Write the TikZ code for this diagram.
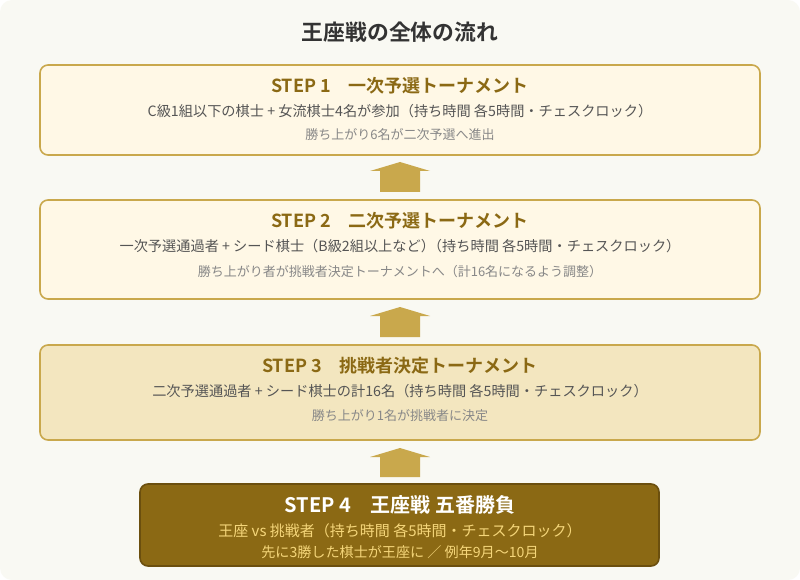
\documentclass[tikz,border=0pt]{standalone}
\usepackage{fontspec}
\setmainfont{Noto Sans CJK JP}
\newfontfamily\jpb{Noto Sans CJK JP Bold}
\definecolor{bgc}{HTML}{F9F9F3}
\definecolor{gold}{HTML}{C9A84C}
\definecolor{boxa}{HTML}{FFF8E6}
\definecolor{boxc}{HTML}{F3E6BF}
\definecolor{brown}{HTML}{8B6914}
\definecolor{brownd}{HTML}{6B4F0E}
\definecolor{tdark}{HTML}{333333}
\definecolor{tmid}{HTML}{555555}
\definecolor{tlight}{HTML}{888888}
\definecolor{tyel}{HTML}{F5D67A}
\tikzset{
  x=1pt,y=-1pt,
  stagebox/.style={draw=gold,line width=1.6pt,rounded corners=8pt,fill=boxa},
  finalbox/.style={draw=brownd,line width=1.6pt,rounded corners=8pt,fill=brown},
  steptitle/.style={font=\jpb\fontsize{18}{21}\selectfont,text=brown,inner sep=0},
  stepmain/.style={font=\fontsize{14.2}{17}\selectfont,text=tmid,inner sep=0},
  stepnote/.style={font=\fontsize{13}{15}\selectfont,text=tlight,inner sep=0},
  uparrow/.style={fill=gold,draw=none},
}
\begin{document}
\begin{tikzpicture}
\useasboundingbox (0,0) rectangle (800,580);
\fill[white] (0,0) rectangle (800,580);
\fill[bgc,rounded corners=12pt] (0,0) rectangle (800,580);

\node[font=\jpb\fontsize{21.8}{26}\selectfont,text=tdark,inner sep=0] (title) at (400,32) {王座戦の全体の流れ};

% boxes
\draw[stagebox] (40,65) rectangle (760,155);
\draw[stagebox] (40,200) rectangle (760,299);
\draw[stagebox,fill=boxc] (40,345) rectangle (760,440);
\draw[finalbox] (140,484) rectangle (659,566);

% STEP 1
\node[steptitle] (s1t) at (400,86) {STEP 1\hspace{1em}一次予選トーナメント};
\node[stepmain] (s1m) at (400,111) {C級1組以下の棋士 + 女流棋士4名が参加（持ち時間 各5時間・チェスクロック）};
\node[stepnote] (s1n) at (400,135) {勝ち上がり6名が二次予選へ進出};

% STEP 2
\node[steptitle] (s2t) at (400,221) {STEP 2\hspace{1em}二次予選トーナメント};
\node[stepmain] (s2m) at (400,246) {一次予選通過者 + シード棋士（B級2組以上など）\kern-0.5em（持ち時間 各5時間・チェスクロック）};
\node[stepnote] (s2n) at (400,272) {勝ち上がり者が挑戦者決定トーナメントへ（計16名になるよう調整）};

% STEP 3
\node[steptitle] (s3t) at (400,366) {STEP 3\hspace{1em}挑戦者決定トーナメント};
\node[stepmain] (s3m) at (400,391) {二次予選通過者 + シード棋士の計16名（持ち時間 各5時間・チェスクロック）};
\node[stepnote] (s3n) at (400,416) {勝ち上がり1名が挑戦者に決定};

% STEP 4
\node[steptitle,text=white,font=\jpb\fontsize{20}{24}\selectfont] (s4t) at (400,505) {STEP 4\hspace{1em}王座戦 五番勝負};
\node[stepmain,text=tyel,font=\fontsize{15}{18}\selectfont] (s4m) at (400,531) {王座 vs 挑戦者（持ち時間 各5時間・チェスクロック）};
\node[stepmain,text=tyel,font=\fontsize{14.1}{17}\selectfont] (s4n) at (400,552) {先に3勝した棋士が王座に ／ 例年9月〜10月};

% arrows (pointing up)
\fill[uparrow] (380,192) -- (380,171) -- (370,171) -- (400,162) -- (430,171) -- (420,171) -- (420,192) -- cycle;
\fill[uparrow] (380,337) -- (380,316) -- (370,316) -- (400,307) -- (430,316) -- (420,316) -- (420,337) -- cycle;
\fill[uparrow] (380,477) -- (380,457) -- (370,457) -- (400,448) -- (430,457) -- (420,457) -- (420,477) -- cycle;
\end{tikzpicture}
\end{document}
